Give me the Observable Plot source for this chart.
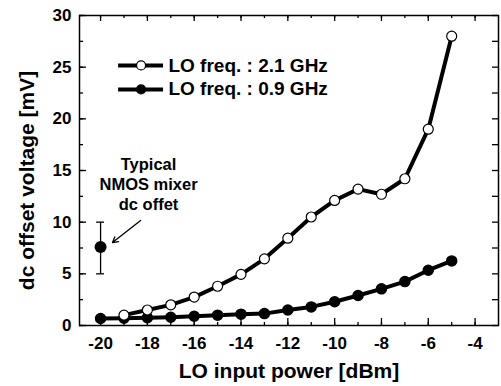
<!DOCTYPE html>
<html>
<head>
<meta charset="utf-8">
<script src="https://cdn.jsdelivr.net/npm/d3@7"></script>
<script src="https://cdn.jsdelivr.net/npm/@observablehq/plot@0.6"></script>
<style>
  html, body { margin: 0; padding: 0; background: #fff; }
  #chart svg { display: block; }
</style>
</head>
<body>
<div id="chart"></div>
<script>
// ---- data ----
const power = [-20, -19, -18, -17, -16, -15, -14, -13, -12, -11, -10, -9, -8, -7, -6, -5];
const offset21 = [null, 1.0, 1.5, 2.0, 2.75, 3.8, 4.95, 6.45, 8.45, 10.5, 12.1, 13.2, 12.7, 14.2, 19.0, 28.0];
const offset09 = [0.68, 0.7, 0.75, 0.8, 0.9, 1.0, 1.1, 1.15, 1.5, 1.8, 2.3, 2.9, 3.55, 4.25, 5.35, 6.25];
const seriesNames = ["LO freq. : 2.1 GHz", "LO freq. : 0.9 GHz"];
const typicalX = [-20];
const typicalMean = [7.6];
const typicalLow = [5];
const typicalHigh = [10];
const typicalLabel = ["Typical", "NMOS mixer", "dc offet"];
const xTickValues = [-20, -18, -16, -14, -12, -10, -8, -6, -4];
const yTickValues = [0, 5, 10, 15, 20, 25, 30];
const xLabel = "LO input power [dBm]";
const yLabel = "dc offset voltage [mV]";

// ---- tables ----
const s21 = power.map((x, i) => ({x, y: offset21[i]})).filter(d => d.y != null);
const s09 = power.map((x, i) => ({x, y: offset09[i]}));
const typical = typicalX.map((x, i) => ({x, y: typicalMean[i], lo: typicalLow[i], hi: typicalHigh[i]}));
const caps = typical.flatMap(d => [{x1: d.x - 0.17, x2: d.x + 0.17, y: d.lo}, {x1: d.x - 0.17, x2: d.x + 0.17, y: d.hi}]);
const xMinor = d3.range(-20, -3, 1);
const yMinor = d3.range(0, 30.01, 2.5);

const W = 501, H = 386;
const mL = 79, mR = 3, mT = 15, mB = 61;
const innerW = W - mL - mR, innerH = H - mT - mB;
const font = "'Liberation Sans', Arial, Helvetica, sans-serif";

// legend placement (data coords inside the frame)
const legX1 = -19.23, legX2 = -17.31, legXm = -18.27, legXt = -17.1;
const legY = [25.17, 22.85];
const legend = seriesNames.map((name, i) => ({name, y: legY[i], open: i === 0, x1: legX1, x2: legX2, xm: legXm, xt: legXt}));

const plot = Plot.plot({
  width: W,
  height: H,
  marginLeft: mL,
  marginRight: mR,
  marginTop: mT,
  marginBottom: mB,
  style: {fontFamily: font, background: "#fff", color: "#000"},
  x: {type: "linear", domain: [-20.9, -3], ticks: xTickValues},
  y: {type: "linear", domain: [0, 30], ticks: yTickValues},
  marks: [
    // inward ticks: bottom & top
    Plot.tickX(xMinor, {x: d => d, stroke: "#000", strokeWidth: 1.3, insetTop: innerH - 3}),
    Plot.tickX(xTickValues, {x: d => d, stroke: "#000", strokeWidth: 1.3, insetTop: innerH - 7}),
    Plot.tickX(xMinor, {x: d => d, stroke: "#000", strokeWidth: 1.3, insetBottom: innerH - 3}),
    Plot.tickX(xTickValues, {x: d => d, stroke: "#000", strokeWidth: 1.3, insetBottom: innerH - 6}),
    // inward ticks: left & right
    Plot.tickY(yMinor, {y: d => d, stroke: "#000", strokeWidth: 1.3, insetRight: innerW - 4}),
    Plot.tickY(yTickValues, {y: d => d, stroke: "#000", strokeWidth: 1.3, insetRight: innerW - 7}),
    Plot.tickY(yMinor, {y: d => d, stroke: "#000", strokeWidth: 1.3, insetLeft: innerW - 6}),
    Plot.frame({stroke: "#000", strokeWidth: 1.5}),
    Plot.axisX({anchor: "bottom", ticks: xTickValues, tickSize: 0, tickPadding: 11, fontSize: 17, fontWeight: "bold", label: null, tickFormat: d => String(d)}),
    Plot.axisY({anchor: "left", ticks: yTickValues, tickSize: 0, tickPadding: 8, fontSize: 17, fontWeight: "bold", label: null}),
    Plot.text([xLabel], {frameAnchor: "bottom", lineAnchor: "middle", textAnchor: "middle", dy: 46, fontSize: 21, fontWeight: "bold", fill: "#000"}),
    Plot.text([yLabel], {frameAnchor: "left", lineAnchor: "middle", textAnchor: "middle", dx: -52, dy: 10, rotate: -90, fontSize: 21, fontWeight: "bold", fill: "#000"}),
    // series
    Plot.line(s09, {x: "x", y: "y", stroke: "#000", strokeWidth: 4}),
    Plot.dot(s09, {x: "x", y: "y", r: 5, fill: "#000", stroke: "#000"}),
    Plot.line(s21, {x: "x", y: "y", stroke: "#000", strokeWidth: 4}),
    Plot.dot(s21, {x: "x", y: "y", r: 5, fill: "#fff", stroke: "#000", strokeWidth: 1.2}),
    // typical NMOS dc offset
    Plot.ruleX(typical, {x: "x", y1: "lo", y2: "hi", stroke: "#000", strokeWidth: 1.3}),
    Plot.ruleY(caps, {y: "y", x1: "x1", x2: "x2", stroke: "#000", strokeWidth: 1.3}),
    Plot.dot(typical, {x: "x", y: "y", r: 6, fill: "#000"}),
    Plot.text([typicalLabel.join("\n")], {x: () => -17.95, y: () => 13.75, lineHeight: 1.22, fontSize: 16.5, fontWeight: "bold", fill: "#000"}),
    Plot.arrow([{x1: -18.29, y1: 10.16, x2: -19.49, y2: 8.03}], {x1: "x1", y1: "y1", x2: "x2", y2: "y2", stroke: "#000", strokeWidth: 1.3, headLength: 7}),
    // legend
    Plot.ruleY(legend, {y: "y", x1: "x1", x2: "x2", stroke: "#000", strokeWidth: 4}),
    Plot.dot(legend, {x: "xm", y: "y", r: 4.5, fill: d => d.open ? "#fff" : "#000", stroke: "#000", strokeWidth: 1.2}),
    Plot.text(legend, {x: "xt", y: "y", text: "name", textAnchor: "start", fontSize: 19, fontWeight: "bold", fill: "#000"})
  ]
});

document.getElementById("chart").appendChild(plot);
</script>
</body>
</html>
